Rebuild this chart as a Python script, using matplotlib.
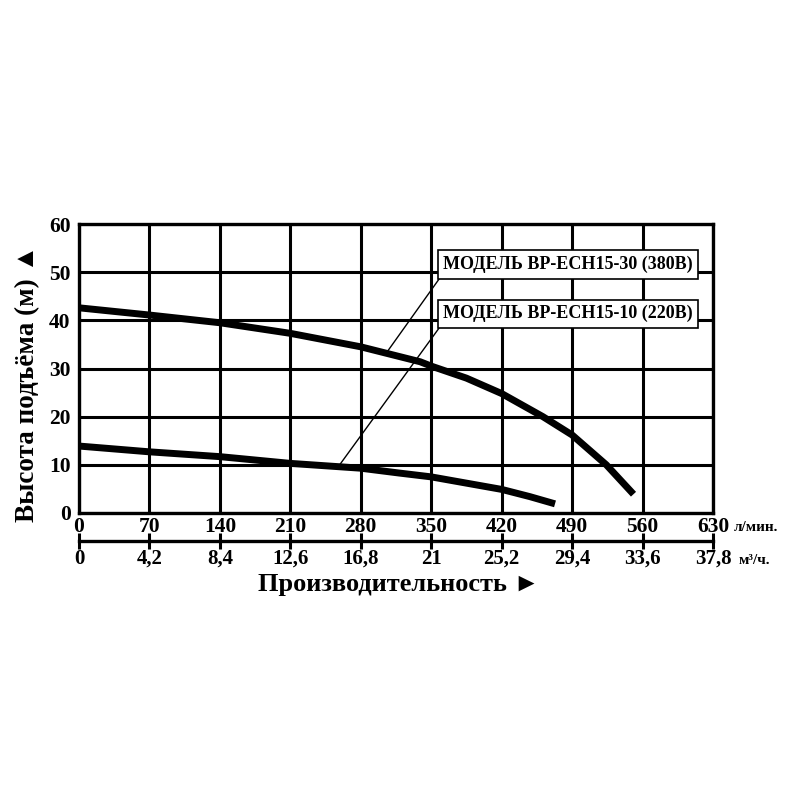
# -*- coding: utf-8 -*-

import matplotlib
matplotlib.use('Agg')
import matplotlib.pyplot as plt

plt.rcParams['font.family'] = ['Liberation Serif', 'DejaVu Sans']
plt.rcParams['font.weight'] = 'bold'

# расход, л/мин
q_ticks = [0, 70, 140, 210, 280, 350, 420, 490, 560, 630]
# расход, м3/ч
m3_ticks = [0, 4.2, 8.4, 12.6, 16.8, 21, 25.2, 29.4, 33.6, 37.8]
m3_labels = ['0', '4,2', '8,4', '12,6', '16,8', '21', '25,2', '29,4', '33,6', '37,8']
h_ticks = [0, 10, 20, 30, 40, 50, 60]

# кривая BP-ECH15-30 (380В)
q_380 = [0, 70, 140, 210, 280, 339, 350, 385, 420, 461, 490, 524, 551]
h_380 = [42.6, 41.1, 39.5, 37.3, 34.5, 31.4, 30.5, 28.0, 24.8, 20.0, 16.2, 10.0, 3.9]

# кривая BP-ECH15-10 (220В)
q_220 = [0, 70, 140, 210, 280, 318, 350, 420, 448, 473]
h_220 = [13.9, 12.7, 11.7, 10.3, 9.3, 8.3, 7.5, 4.9, 3.4, 1.9]

label_380 = 'МОДЕЛЬ BP-ECH15-30 (380В)'
label_220 = 'МОДЕЛЬ BP-ECH15-10 (220В)'

fig = plt.figure(figsize=(8, 8), dpi=100)
ax = fig.add_axes([0.09875, 0.35875, 0.7925, 0.36125])

ax.set_xlim(0, 630)
ax.set_ylim(0, 60)
ax.set_xticks(q_ticks)
ax.set_yticks(h_ticks)
ax.grid(True, color='black', linewidth=2.2)
ax.set_axisbelow(True)
for s in ax.spines.values():
    s.set_linewidth(2.4)
ax.tick_params(length=0, labelsize=15.5, pad=3)
ax.tick_params(axis='y', pad=6)

ax.plot(q_380, h_380, color='black', linewidth=5, solid_capstyle='butt',
        solid_joinstyle='round', zorder=3)
ax.plot(q_220, h_220, color='black', linewidth=5, solid_capstyle='butt',
        solid_joinstyle='round', zorder=3)

# подписи моделей с выносками
box = dict(boxstyle='square,pad=0.3', facecolor='white', edgecolor='black', linewidth=1.2)
arrow = dict(arrowstyle='-', color='black', linewidth=1.0, relpos=(0, 0), shrinkA=0, shrinkB=0)
ax.annotate(label_380, xy=(306, 33.4), xytext=(362, 51.6), ha='left', va='center',
            fontsize=13, fontweight='bold', bbox=box, arrowprops=arrow, zorder=5)
ax.annotate(label_220, xy=(259, 10), xytext=(362, 41.4), ha='left', va='center',
            fontsize=13, fontweight='bold', bbox=box, arrowprops=arrow, zorder=5)

# вторая шкала, м3/ч
sec = ax.secondary_xaxis(-0.097, functions=(lambda q: q * 0.06, lambda m: m / 0.06))
sec.set_xticks(m3_ticks)
sec.set_xticklabels(m3_labels)
sec.spines['bottom'].set_linewidth(2.4)
sec.tick_params(direction='inout', length=11, width=2.2, labelsize=15, pad=0)

ax.text(1.033, -0.05, 'л/мин.', transform=ax.transAxes, fontsize=11,
        fontweight='bold', ha='left', va='center')
ax.text(1.041, -0.165, 'м³/ч.', transform=ax.transAxes, fontsize=11,
        fontweight='bold', ha='left', va='center')

fig.text(0.034, 0.521, 'Высота подъёма (м) ▲', fontsize=19.5, fontweight='bold',
         rotation=90, ha='center', va='center')
fig.text(0.498, 0.2615, 'Производительность ►', fontsize=19, fontweight='bold',
         ha='center', va='baseline')

fig.savefig('out.png', dpi=100, facecolor='white')
